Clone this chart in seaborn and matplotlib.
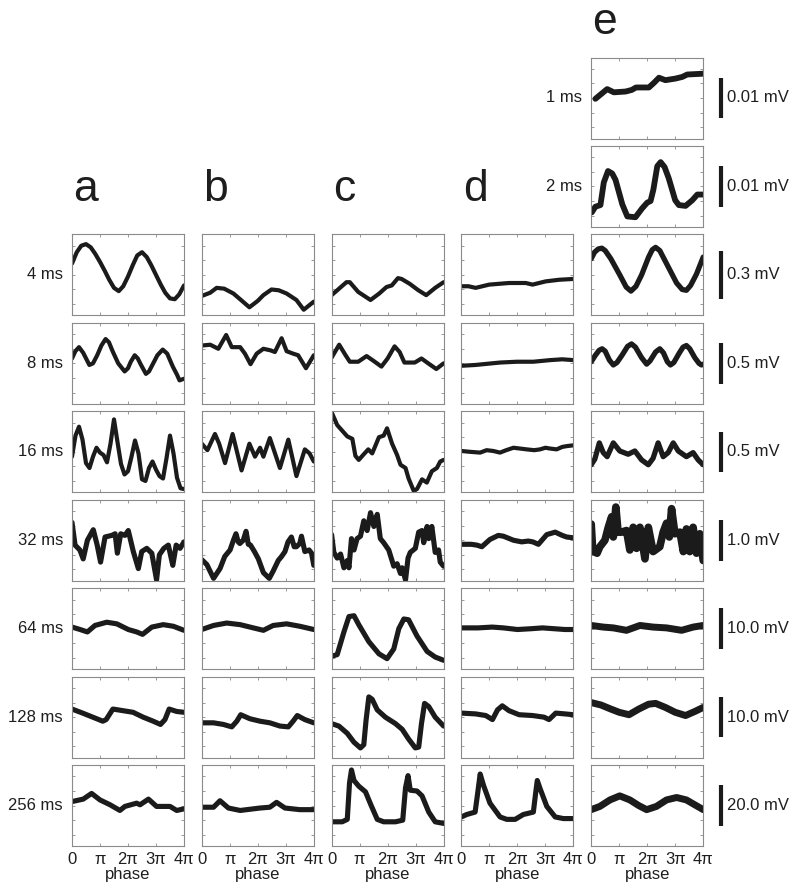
import numpy as np
import pandas as pd
import matplotlib
matplotlib.use("Agg")
import matplotlib.pyplot as plt
import matplotlib.transforms as mtransforms
import seaborn as sns

# ---------------- data ----------------
COLUMN_LETTERS = ["a", "b", "c", "d", "e"]
ROW_LABELS = ["1 ms", "2 ms", "4 ms", "8 ms", "16 ms", "32 ms", "64 ms", "128 ms", "256 ms"]
SCALE_MV = [0.01, 0.01, 0.3, 0.5, 0.5, 1.0, 10.0, 10.0, 20.0]
PANEL_SPAN_MV = [0.02, 0.02, 0.5, 1.0, 1.0, 2.0, 20.0, 20.0, 40.0]
PHASE_TICKS = [0, 1, 2, 3, 4]          # multiples of pi
PHASE_LABELS = ["0", "π", "2π", "3π", "4π"]

# traces: (phase in units of pi, level in % of panel height)
A4 = [(0, 64), (0.17, 78), (0.33, 86), (0.5, 88), (0.67, 84), (0.83, 76), (1.0, 66), (1.17, 55), (1.33, 44),
      (1.5, 34), (1.67, 30), (1.83, 36), (2.0, 48), (2.17, 62), (2.33, 74), (2.5, 78), (2.67, 72), (2.83, 62),
      (3.0, 50), (3.17, 38), (3.33, 28), (3.5, 21), (3.67, 20), (3.83, 26), (4.0, 37)]
A8 = [(0, 56), (0.12, 65), (0.25, 70), (0.4, 63), (0.62, 48), (0.75, 50), (0.9, 60), (1.05, 72), (1.2, 80),
      (1.32, 76), (1.45, 65), (1.65, 50), (1.88, 40), (2.0, 44), (2.1, 52), (2.24, 60), (2.35, 56), (2.45, 49),
      (2.64, 37), (2.75, 40), (2.9, 50), (3.05, 60), (3.24, 67), (3.4, 62), (3.5, 54), (3.6, 46), (3.75, 36),
      (3.84, 29), (4, 31)]
A16 = [(0, 44), (0.125, 70), (0.25, 81), (0.375, 65), (0.5, 36), (0.625, 30), (0.75, 44), (0.875, 55), (1.0, 49),
       (1.125, 46), (1.25, 37), (1.375, 60), (1.5, 90), (1.625, 62), (1.75, 35), (1.875, 22), (2.0, 26),
       (2.125, 44), (2.25, 64), (2.375, 48), (2.5, 16), (2.625, 14), (2.75, 30), (2.875, 38), (3.0, 28),
       (3.125, 20), (3.25, 17), (3.375, 42), (3.5, 70), (3.625, 48), (3.75, 18), (3.875, 5), (4.0, 4)]
A32 = [(0, 72), (0.11, 44), (0.28, 38), (0.40, 27), (0.55, 50), (0.76, 63), (0.90, 44), (1.02, 23), (1.18, 54),
       (1.42, 56), (1.54, 58), (1.62, 34), (1.74, 58), (1.89, 56), (2.01, 62), (2.19, 36), (2.37, 15), (2.49, 36),
       (2.67, 40), (2.85, 34), (3.02, 1), (3.12, 32), (3.28, 40), (3.44, 44), (3.60, 19), (3.72, 44), (3.86, 40),
       (4, 48)]
A64 = [(0, 52), (0.29, 49), (0.55, 46), (0.82, 54), (1.24, 58), (1.60, 56), (2.01, 49), (2.31, 46), (2.52, 43),
       (2.85, 52), (3.26, 55), (3.62, 53), (4, 48)]
A128 = [(0, 60), (0.38, 55), (0.74, 50), (1.10, 45), (1.22, 47), (1.46, 60), (1.82, 58), (2.18, 56), (2.54, 50),
        (2.90, 45), (3.16, 41), (3.32, 47), (3.47, 60), (3.74, 57), (4, 56)]
A256 = [(0, 55), (0.40, 58), (0.70, 65), (1.0, 57), (1.36, 51), (1.71, 44), (1.89, 49), (2.31, 53), (2.43, 51),
        (2.73, 58), (3.02, 49), (3.5, 49), (3.74, 44), (4, 46)]

B4 = [(0, 24), (0.3, 28), (0.53, 34), (0.8, 33), (1.13, 27), (1.4, 19), (1.70, 10), (2.0, 18), (2.20, 25),
      (2.49, 32), (2.75, 31), (3.03, 27), (3.38, 19), (3.64, 7), (4, 17)]
B8 = [(0, 72), (0.30, 73), (0.59, 68), (0.87, 85), (1.07, 70), (1.37, 70), (1.54, 62), (1.74, 49), (1.96, 62),
      (2.20, 68), (2.46, 66), (2.61, 64), (2.85, 81), (3.03, 65), (3.26, 62), (3.44, 60), (3.72, 44), (4, 60)]
B16 = [(0, 60), (0.2, 52), (0.47, 72), (0.62, 60), (0.83, 36), (1.10, 72), (1.42, 27), (1.70, 60), (1.90, 44),
       (2.08, 55), (2.20, 44), (2.43, 67), (2.79, 30), (3.09, 65), (3.38, 20), (3.68, 53), (3.85, 48), (4, 38)]
B32 = [(0, 26), (0.18, 20), (0.42, 3), (0.65, 15), (0.82, 30), (1.01, 38), (1.13, 50), (1.22, 58), (1.30, 48),
       (1.36, 46), (1.48, 50), (1.58, 61), (1.66, 45), (1.74, 44), (1.88, 36), (2.02, 27), (2.20, 10), (2.41, 3),
       (2.55, 12), (2.73, 25), (2.85, 30), (2.97, 36), (3.08, 48), (3.20, 54), (3.30, 42), (3.38, 42), (3.50, 46),
       (3.56, 55), (3.68, 36), (3.83, 38), (3.92, 34), (4, 19)]
B64 = [(0, 49), (0.42, 54), (0.89, 57), (1.37, 55), (1.84, 51), (2.20, 48), (2.55, 54), (3.03, 56), (3.50, 53),
       (4, 49)]
B128 = [(0, 43), (0.42, 43), (0.77, 41), (1.07, 38), (1.25, 45), (1.39, 53), (1.72, 48), (2.08, 45), (2.43, 43),
        (2.79, 39), (3.09, 38), (3.26, 45), (3.41, 52), (3.68, 47), (4, 43)]
B256 = [(0, 48), (0.42, 48), (0.65, 56), (0.95, 47), (1.37, 44), (2.08, 47), (2.43, 48), (2.67, 54), (2.97, 47),
        (3.50, 45), (4, 45)]

C4 = [(0, 25), (0.2, 31), (0.53, 41), (0.65, 41), (0.95, 29), (1.39, 19), (1.7, 27), (1.96, 35), (2.15, 37),
      (2.37, 46), (2.5, 45), (2.79, 39), (3.1, 31), (3.38, 25), (3.7, 34), (4, 41)]
C8 = [(0, 57), (0.27, 73), (0.5, 60), (0.65, 52), (0.95, 52), (1.25, 59), (1.5, 53), (1.78, 46), (2.0, 56),
      (2.25, 71), (2.43, 64), (2.6, 51), (2.97, 51), (3.21, 56), (3.45, 50), (3.74, 43), (4, 50)]
C16 = [(0, 99), (0.2, 83), (0.38, 76), (0.56, 69), (0.74, 66), (0.85, 45), (0.97, 40), (1.15, 47), (1.31, 53),
       (1.45, 48), (1.69, 68), (1.86, 70), (1.98, 79), (2.16, 60), (2.34, 46), (2.46, 34), (2.64, 30), (2.75, 17),
       (2.93, 2), (3.05, 4), (3.23, 16), (3.40, 12), (3.58, 26), (3.76, 30), (3.88, 38), (4, 40)]
C32 = [(0, 57), (0.08, 35), (0.2, 28), (0.32, 33), (0.44, 16), (0.56, 25), (0.62, 16), (0.71, 52), (0.8, 38),
       (0.91, 52), (1.03, 55), (1.15, 74), (1.27, 62), (1.39, 84), (1.51, 67), (1.63, 82), (1.74, 52), (1.86, 47),
       (2.04, 38), (2.22, 18), (2.34, 21), (2.46, 9), (2.52, 16), (2.64, 1), (2.73, 28), (2.81, 35), (2.99, 40),
       (3.11, 60), (3.23, 62), (3.29, 47), (3.41, 67), (3.47, 52), (3.58, 67), (3.70, 35), (3.82, 38), (3.88, 23),
       (4, 18)]
C64 = [(0, 16), (0.2, 18), (0.44, 46), (0.62, 65), (0.8, 66), (0.97, 55), (1.33, 34), (1.69, 19), (1.98, 13),
       (2.22, 25), (2.40, 50), (2.58, 62), (2.75, 61), (3.05, 41), (3.41, 22), (3.70, 15), (4, 11)]
C128 = [(0, 42), (0.26, 39), (0.56, 30), (0.80, 19), (1.03, 12), (1.15, 16), (1.23, 46), (1.33, 75), (1.45, 72),
        (1.63, 59), (1.92, 50), (2.28, 42), (2.52, 35), (2.75, 23), (2.99, 12), (3.11, 13), (3.21, 42), (3.32, 67),
        (3.47, 63), (3.70, 50), (4, 39)]
C256 = [(0, 30), (0.38, 30), (0.56, 33), (0.64, 78), (0.71, 94), (0.80, 81), (0.97, 74), (1.21, 67), (1.39, 52),
        (1.63, 33), (1.86, 30), (2.28, 30), (2.54, 32), (2.64, 72), (2.73, 87), (2.81, 69), (3.05, 68), (3.23, 62),
        (3.47, 42), (3.70, 30), (4, 28)]

D4 = [(0, 36), (0.25, 36), (0.51, 34), (0.99, 38), (1.70, 40), (2.30, 40), (2.54, 38), (3.01, 42), (3.49, 44),
      (4, 45)]
D8 = [(0, 47), (0.5, 48), (0.79, 49), (1.38, 51), (1.98, 52), (2.57, 52), (3.17, 54), (3.6, 55), (4, 54)]
D16 = [(0, 51), (0.3, 50), (0.67, 49), (0.9, 52), (1.14, 51), (1.38, 49), (1.6, 52), (1.86, 55), (2.33, 53),
       (2.6, 52), (2.81, 53), (3.0, 55), (3.17, 54), (3.40, 53), (3.6, 56), (3.76, 57), (4, 58)]
D32 = [(0, 45), (0.35, 45), (0.55, 44), (0.73, 42), (1.02, 51), (1.32, 56), (1.5, 55), (1.86, 50), (2.15, 48),
       (2.39, 49), (2.55, 48), (2.75, 45), (3.05, 57), (3.35, 60), (3.6, 56), (3.76, 54), (4, 53)]
D64 = [(0, 51), (0.6, 51), (1.1, 52), (1.5, 51), (2.0, 49), (2.5, 50), (2.9, 51), (3.3, 50), (3.7, 49), (4, 49)]
D128 = [(0, 55), (0.51, 54), (0.87, 52), (1.11, 47), (1.29, 59), (1.46, 64), (1.70, 58), (2.06, 53), (2.54, 52),
        (2.95, 50), (3.13, 47), (3.37, 55), (3.7, 54), (4, 53)]
D256 = [(0, 36), (0.19, 39), (0.49, 42), (0.58, 65), (0.67, 89), (0.79, 75), (1.02, 53), (1.38, 36), (1.62, 33),
        (1.92, 33), (2.21, 39), (2.57, 42), (2.65, 65), (2.71, 81), (2.81, 71), (3.05, 49), (3.35, 36), (3.64, 34),
        (4, 34)]

E1 = [(0.15, 49), (0.57, 61), (0.81, 57), (1.23, 58), (1.45, 60), (1.6, 63), (2.06, 63), (2.25, 69), (2.42, 75),
      (2.65, 72), (3.01, 74), (3.25, 76), (3.43, 79), (4, 80)]
E2 = [(0.02, 18), (0.15, 25), (0.33, 27), (0.45, 55), (0.6, 69), (0.75, 66), (0.87, 58), (1.11, 28), (1.29, 13),
      (1.58, 12), (1.82, 23), (2.0, 30), (2.12, 32), (2.22, 46), (2.36, 75), (2.48, 80), (2.62, 74), (2.77, 60),
      (3.0, 33), (3.13, 27), (3.37, 26), (3.61, 33), (3.79, 40), (4, 40)]
E4 = [(0, 70), (0.12, 78), (0.25, 82), (0.38, 83), (0.5, 80), (0.7, 70), (1.02, 50), (1.25, 35), (1.42, 30),
      (1.6, 36), (1.8, 50), (2.05, 72), (2.18, 81), (2.3, 84), (2.45, 80), (2.69, 64), (3.05, 40), (3.25, 32),
      (3.40, 31), (3.55, 37), (3.76, 51), (4, 72)]
E8 = [(0, 52), (0.15, 60), (0.28, 66), (0.39, 68), (0.5, 65), (0.65, 54), (0.79, 48), (0.92, 51), (1.1, 60),
      (1.3, 71), (1.44, 74), (1.58, 70), (1.8, 57), (1.98, 49), (2.1, 53), (2.3, 64), (2.45, 68), (2.58, 63),
      (2.72, 52), (2.83, 48), (2.95, 51), (3.15, 63), (3.28, 70), (3.40, 72), (3.52, 68), (3.7, 57), (3.85, 50),
      (3.94, 48), (4, 49)]
E16 = [(0, 34), (0.13, 41), (0.29, 61), (0.43, 49), (0.57, 44), (0.79, 61), (1.02, 51), (1.32, 47), (1.56, 51),
       (1.80, 40), (2.04, 34), (2.21, 42), (2.39, 61), (2.57, 44), (2.75, 49), (2.93, 61), (3.11, 51), (3.40, 44),
       (3.64, 49), (3.82, 40), (4, 34)]
E32 = [(0, 70), (0.05, 40), (0.10, 36), (0.21, 34), (0.31, 42), (0.49, 50), (0.61, 66), (0.73, 79), (0.79, 54),
       (0.88, 91), (0.96, 60), (1.08, 60), (1.26, 62), (1.38, 38), (1.50, 66), (1.62, 40), (1.74, 66), (1.92, 27),
       (2.04, 66), (2.21, 36), (2.45, 42), (2.57, 60), (2.69, 71), (2.79, 54), (2.87, 89), (2.99, 58), (3.17, 60),
       (3.29, 36), (3.40, 64), (3.52, 36), (3.64, 66), (3.76, 34), (3.88, 58), (4, 25)]
E64 = [(0, 54), (0.43, 52), (0.79, 51), (1.26, 48), (1.74, 54), (2.21, 52), (2.69, 51), (3.23, 48), (3.64, 52),
       (4, 54)]
E128 = [(0, 68), (0.35, 65), (0.7, 60), (1.0, 56), (1.35, 53), (1.7, 60), (2.05, 66), (2.3, 67), (2.65, 62),
        (3.0, 56), (3.37, 52), (3.7, 57), (4, 62)]
E256 = [(0, 45), (0.31, 49), (0.67, 57), (1.02, 62), (1.38, 57), (1.7, 50), (1.98, 45), (2.33, 49), (2.69, 57),
        (3.05, 60), (3.40, 57), (3.7, 51), (4, 45)]

# panel table: (column index, row index, trace)
PANELS = [
    (0, 2, A4), (0, 3, A8), (0, 4, A16), (0, 5, A32), (0, 6, A64), (0, 7, A128), (0, 8, A256),
    (1, 2, B4), (1, 3, B8), (1, 4, B16), (1, 5, B32), (1, 6, B64), (1, 7, B128), (1, 8, B256),
    (2, 2, C4), (2, 3, C8), (2, 4, C16), (2, 5, C32), (2, 6, C64), (2, 7, C128), (2, 8, C256),
    (3, 2, D4), (3, 3, D8), (3, 4, D16), (3, 5, D32), (3, 6, D64), (3, 7, D128), (3, 8, D256),
    (4, 0, E1), (4, 1, E2), (4, 2, E4), (4, 3, E8), (4, 4, E16), (4, 5, E32), (4, 6, E64), (4, 7, E128),
    (4, 8, E256),
]

records = []
for ci, ri, tr in PANELS:
    for ph, v in tr:
        records.append({"col": ci, "row": ri, "phase": ph * np.pi, "level": v})
df = pd.DataFrame(records)

# ---------------- style ----------------
sns.set_theme(style="white")
plt.rcParams["font.family"] = ["Liberation Sans", "DejaVu Sans"]

W, H = 800, 893
fig = plt.figure(figsize=(W / 100, H / 100), dpi=100)

LINE = "#1b1b1b"
SPINE = "#8a8a8a"
TEXT = "#1e1e1e"
COL_LEFT_PX, COL_STEP_PX = 72.0, 129.8
ROW_TOP_PX, ROW_STEP_PX = 57.5, 88.45
PW, PH = 112.0, 81.0


def lw_for(ci, ri):
    if ci == 4:
        if ri == 5:
            return 5.5
        if ri >= 6:
            return 5.0
        return 4.2 if ri <= 1 else 3.8
    return 3.0 if ri <= 4 else 3.7


axes = {}
for ci, ri, tr in PANELS:
    left = COL_LEFT_PX + ci * COL_STEP_PX
    top = ROW_TOP_PX + ri * ROW_STEP_PX
    ax = fig.add_axes([left / W, 1 - (top + PH) / H, PW / W, PH / H])
    axes[(ci, ri)] = ax
    sub = df[(df.col == ci) & (df.row == ri)]
    sns.lineplot(data=sub, x="phase", y="level", ax=ax, color=LINE, linewidth=lw_for(ci, ri),
                 estimator=None, sort=False, solid_joinstyle="round", solid_capstyle="round")
    ax.set_xlim(0, 4 * np.pi)
    ax.set_ylim(0, 100)
    ax.set_xticks([t * np.pi for t in PHASE_TICKS])
    ax.set_yticks([14, 32, 50, 68, 86])
    ax.set_yticklabels([])
    ax.set_ylabel("")
    for s in ax.spines.values():
        s.set_color(SPINE)
        s.set_linewidth(0.8)
    ax.tick_params(direction="in", length=2.5, width=0.6, color=SPINE, top=True, right=True,
                   bottom=True, left=True, labelsize=12, pad=4, labelcolor=TEXT)
    if ri == 8:
        ax.set_xticklabels(PHASE_LABELS)
        ax.set_xlabel("phase", fontsize=12, labelpad=0, color=TEXT)
    else:
        ax.set_xticklabels([])
        ax.set_xlabel("")

# row labels
for ri, lab in enumerate(ROW_LABELS):
    ax = axes[(0, ri)] if ri >= 2 else axes[(4, ri)]
    ax.annotate(lab, xy=(0, 0.5), xycoords="axes fraction", xytext=(-6.5, 0), textcoords="offset points",
                ha="right", va="center", fontsize=12, color=TEXT)

# scale bars on the right of column e
for ri in range(9):
    ax = axes[(4, ri)]
    trans = mtransforms.blended_transform_factory(ax.transAxes, ax.transData)
    half = 100 * SCALE_MV[ri] / PANEL_SPAN_MV[ri] / 2
    ax.plot([1.158, 1.158], [50 - half, 50 + half], transform=trans, color=LINE, lw=3.0,
            clip_on=False, solid_capstyle="butt")
    ax.text(1.21, 50, f"{SCALE_MV[ri]:.2f} mV" if SCALE_MV[ri] < 0.1 else f"{SCALE_MV[ri]:.1f} mV",
            transform=trans, ha="left", va="center", fontsize=12, color=TEXT)

# column letters
for ci, letter in enumerate(COLUMN_LETTERS):
    ri = 2 if ci < 4 else 0
    ax = axes[(ci, ri)]
    dy = 33 if ci < 4 else 23
    ax.annotate(letter, xy=(0, 1), xycoords="axes fraction", xytext=(1, dy * 0.72),
                textcoords="offset points", ha="left", va="baseline", fontsize=32, color=TEXT)

fig.savefig("out.png", dpi=100)
